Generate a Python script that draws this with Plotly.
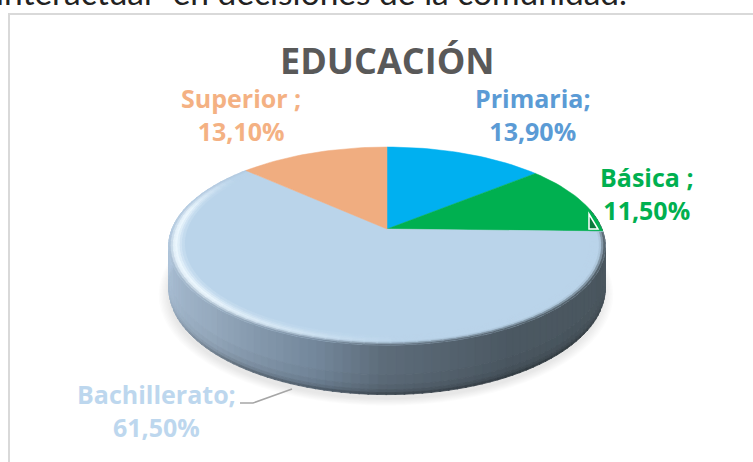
import math
import plotly.graph_objects as go

categories = ["Primaria", "Básica", "Bachillerato", "Superior"]
separators = [";", " ;", ";", " ;"]
values = [13.9, 11.5, 61.5, 13.1]
slice_colors = ["#00b0f0", "#00b050", "#bad4ea", "#f0ad80"]
label_colors = ["#5b9bd5", "#00b050", "#bdd7ee", "#f4b183"]
label_x = [533, 647, 156, 241]
label_y = [114, 193, 410, 114]
title_text = "EDUCACIÓN"
caption_text = "interactuar  en decisiones de la comunidad."

W, H = 753, 462
CX, CY = 387, 229
R, S, K, D = 215, 96.1, 0.172, 41


def proj(theta, r=1.0, drop=0.0):
    u, v = r * math.sin(theta), r * math.cos(theta)
    w = 1 + K * v
    return CX + R * u / w, CY - S * v / w + drop * D / (1 + K * v)


def mix(a, b, t):
    t = max(0, min(1, t))
    return tuple(a[i] + (b[i] - a[i]) * t for i in range(3))


def css(c):
    return "rgb(%d,%d,%d)" % tuple(round(x) for x in c)


def poly(fig, pts, fill, line=None, lw=1):
    xs = [p[0] for p in pts] + [pts[0][0]]
    ys = [p[1] for p in pts] + [pts[0][1]]
    fig.add_trace(go.Scatter(x=xs, y=ys, mode="lines", fill="toself", fillcolor=fill,
                             line=dict(color=line or fill, width=lw), hoverinfo="skip",
                             showlegend=False))


SIDE_STOPS = [(90, (84, 96, 106)), (110, (74, 86, 94)), (150, (75, 88, 98)), (180, (93, 108, 122)),
              (195, (115, 135, 155)), (225, (150, 170, 190)), (270, (178, 200, 222))]


def side_color(d):
    d = max(90, min(270, d))
    for (a, ca), (b, cb) in zip(SIDE_STOPS, SIDE_STOPS[1:]):
        if d <= b:
            return mix(ca, cb, (d - a) / (b - a))
    return SIDE_STOPS[-1][1]


fig = go.Figure()

# soft shadow under the disc
for i in range(8):
    grow = 1.04 - i * 0.006
    pts = []
    for d in range(0, 361, 4):
        x, y = proj(math.radians(d), grow, 1.0)
        pts.append((x - 1, y + 5))
    poly(fig, pts, "rgba(110,110,110,0.025)", "rgba(0,0,0,0)", 0)

# side wall, with a darker foot
bands = [(0, 0.6, 1.0), (0.6, 0.8, 0.97), (0.8, 0.9, 0.92), (0.9, 0.96, 0.84), (0.96, 1.0, 0.7)]
for d in range(78, 286, 2):
    t0, t1 = math.radians(d), math.radians(d + 2.3)
    c0 = side_color(d)
    foot = max(0.15, min(1, 1 - max(0, 130 - d) / 35, 1 - max(0, d - 215) / 45))
    for a, b, f in bands:
        pts = [proj(t0, 1, a), proj(t1, 1, a), proj(t1, 1, b), proj(t0, 1, b)]
        k = 1 - (1 - f) * foot
        c = css(tuple(x * k for x in c0))
        poly(fig, pts, c, c, 0.8)

# bevel on the front rim
base = (186, 212, 234)
total = sum(values)
b0 = values[0] + values[1]
bev_start = b0 / total * 360
bev_end = (b0 + values[2]) / total * 360

# top surface slices, drawn from the values
start = 0.0
for v, c in zip(values, slice_colors):
    sweep = v / total * 2 * math.pi
    n = max(3, int(v * 2))
    pts = [(CX, CY)] + [proj(start + sweep * i / n) for i in range(n + 1)]
    if c != slice_colors[3]:
        poly(fig, pts, c, c, 0.5)
    start += sweep

radii = [1.0, 0.99, 0.98, 0.97, 0.96, 0.95, 0.94, 0.93]
prof = [0.1, 0.5, 0.9, 1.0, 0.75, 0.45, 0.2]
for j in range(len(radii) - 1):
    for d0 in range(int(bev_start) + 1, int(bev_end), 3):
        hi_w = max(0, min(1, (d0 - 175) / 55))
        if d0 > 280:
            hi_w = max(0, 1 - (d0 - 280) / 25)
        hi = mix(base, (235, 246, 253), hi_w)
        outer = side_color(d0)
        if j < 3:
            c = mix(outer, hi, prof[j])
        else:
            c = mix(base, hi, prof[j])
        t0, t1 = math.radians(d0), math.radians(min(d0 + 3.4, bev_end))
        pts = [proj(t0, radii[j]), proj(t1, radii[j]), proj(t1, radii[j + 1]), proj(t0, radii[j + 1])]
        poly(fig, pts, css(c), css(c), 0.6)

# last slice goes over the bevel ends so its edge stays clean
sweep = values[3] / total * 2 * math.pi
a0 = 2 * math.pi - sweep
n = int(values[3] * 2)
poly(fig, [(CX, CY)] + [proj(a0 + sweep * i / n) for i in range(n + 1)], slice_colors[3], slice_colors[3], 0.5)

annotations = []
for name, sep, v, col, lx, ly in zip(categories, separators, values, label_colors, label_x, label_y):
    text = f"{name}{sep}<br>{v:.2f}".replace(".", ",") + "%"
    annotations.append(dict(x=lx, y=ly, text="<b>" + text + "</b>", showarrow=False, xref="x", yref="y",
                            font=dict(family="Open Sans", size=25, color=col), align="center"))
annotations.append(dict(x=387, y=60, text="<b>" + title_text + "</b>", showarrow=False, xref="x", yref="y",
                        font=dict(family="Open Sans", size=36, color="#595959")))
annotations.append(dict(x=0, y=14, xshift=-6, text=caption_text, showarrow=False, xref="x", yref="y", xanchor="left",
                        yanchor="bottom", font=dict(family="Lato", size=33.5, color="#222222")))

shapes = [
    dict(type="path", path="M 9 462 L 9 14 L 753 14", line=dict(color="#d9d9d9", width=2), layer="below"),
    dict(type="path", path="M 240 403 L 253 403 L 292 389", line=dict(color="#a6a6a6", width=1.5)),
    dict(type="path", path="M 589 214 L 589 229 L 598 229 Z", fillcolor="#0a7a3c", line=dict(color="white", width=1.5)),
]

fig.update_layout(
    width=W, height=H, margin=dict(l=0, r=0, t=0, b=0), paper_bgcolor="white", plot_bgcolor="white",
    xaxis=dict(range=[0, W], visible=False, domain=[0, 1], fixedrange=True),
    yaxis=dict(range=[H, 0], visible=False, domain=[0, 1], fixedrange=True),
    showlegend=False, annotations=annotations, shapes=shapes,
)
fig.write_html("out.html", config=dict(displayModeBar=False),
               post_script="document.body.style.margin='0';document.body.style.overflow='hidden';")
